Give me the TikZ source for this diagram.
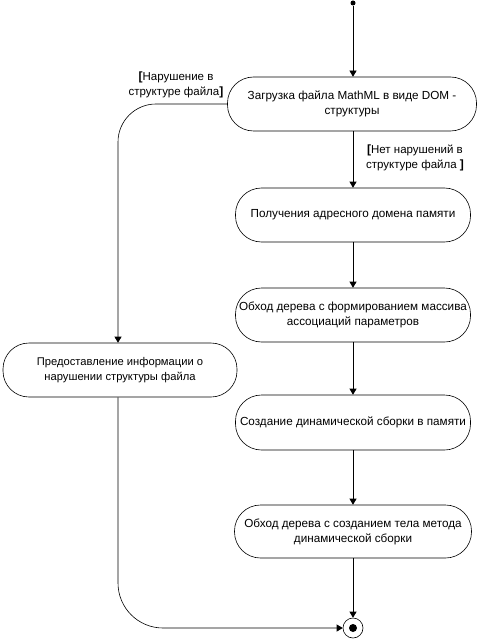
\documentclass[tikz,border=0pt]{standalone}
\usepackage{fontspec}
\setmainfont{Liberation Sans}
\usetikzlibrary{arrows.meta}
\begin{document}
\begin{tikzpicture}[x=1pt,y=-1pt,
  act/.style={draw, line width=0.6pt, rounded corners=26pt, minimum height=54pt, align=center, inner sep=0pt, font=\fontsize{11.7}{15}\selectfont},
  flow/.style={line width=0.6pt, -{Triangle[width=7pt,length=6pt]}},
  guard/.style={align=center, inner sep=0pt, font=\fontsize{11.5}{15}\selectfont}]
\useasboundingbox (0,0) rectangle (479,639);
\node[circle, fill, inner sep=0pt, minimum size=5pt] (start) at (353,3) {};
\node[act, minimum width=249pt] (b1) at (352,104) {Загрузка файла MathML в виде DOM -\\структуры};
\node[act, minimum width=235pt] (b2) at (353,215) {Получения адресного домена памяти};
\node[act, minimum width=235pt] (b3) at (353,315) {Обход дерева с формированием массива\\ассоциаций параметров};
\node[act, minimum width=235pt, minimum height=55pt] (b4) at (353,422.5) {Создание динамической сборки в памяти};
\node[act, minimum width=237pt, minimum height=53pt] (b5) at (353,531.5) {Обход дерева с созданием тела метода\\динамической сборки};
\node[act, minimum width=234pt, font=\fontsize{11.2}{15}\selectfont] (lb) at (120,370) {Предоставление информации о\\нарушении структуры файла};
\node[circle, draw, line width=0.6pt, minimum size=20pt, inner sep=0pt] (end) at (353,628) {};
\node[circle, fill, inner sep=0pt, minimum size=8pt] (endin) at (end) {};
\coordinate (c1) at (118,104);
\node[guard] (g1) at (176,85) {{\large\textbf{[}}Нарушение в\\структуре файла{\large\textbf{]}}};
\node[guard] (g2) at (415,158) {{\large\textbf{[}}Нет нарушений в\\структуре файла {\large\textbf{]}}};
\draw[flow] (start) -- (b1.north -| start);
\draw[flow] (b1.south -| start) -- (b2.north);
\draw[flow] (b2) -- (b3);
\draw[flow] (b3) -- (b4);
\draw[flow] (b4) -- (b5);
\draw[flow] (b5) -- (end);
\draw[flow, rounded corners=38pt] (b1.west) -- (c1) -- (lb.north -| c1);
\draw[flow, rounded corners=45pt] (lb.south -| c1) |- (end.west);
\end{tikzpicture}
\end{document}
